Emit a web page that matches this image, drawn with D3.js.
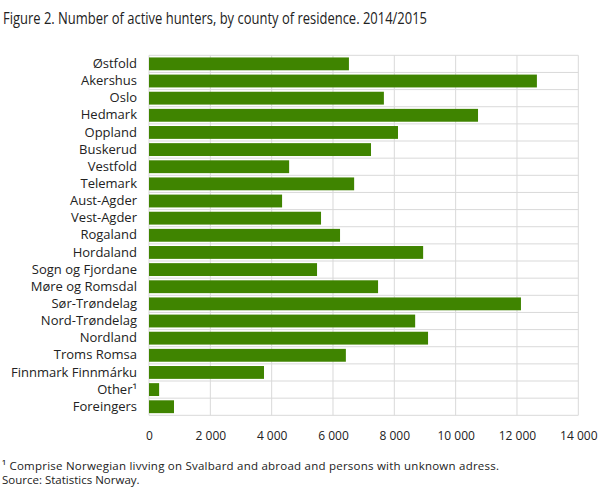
<!DOCTYPE html>
<html>
<head>
<meta charset="utf-8">
<script src="https://cdn.jsdelivr.net/npm/d3@7"></script>
<style>
  body { margin: 0; background: #fff; }
  text { font-family: "Open Sans", sans-serif; fill: #222; }
</style>
</head>
<body>
<svg id="chart"></svg>
<script>
const counties = ["Østfold", "Akershus", "Oslo", "Hedmark", "Oppland", "Buskerud", "Vestfold",
  "Telemark", "Aust-Agder", "Vest-Agder", "Rogaland", "Hordaland", "Sogn og Fjordane",
  "Møre og Romsdal", "Sør-Trøndelag", "Nord-Trøndelag", "Nordland", "Troms Romsa",
  "Finnmark Finnmárku", "Other¹", "Foreingers"];
const hunters = [6520, 12650, 7660, 10730, 8120, 7240, 4570,
  6690, 4340, 5610, 6230, 8940, 5480,
  7470, 12130, 8680, 9100, 6420,
  3750, 330, 815];
const xTicks = [0, 2000, 4000, 6000, 8000, 10000, 12000, 14000];

const width = 609, height = 489;
const margin = { top: 55.3, right: 30.7, bottom: 73.7, left: 149 };

const svg = d3.select('#chart')
  .attr('width', width)
  .attr('height', height);

const x = d3.scaleLinear()
  .domain([0, 14000])
  .range([margin.left, width - margin.right]);

const y = d3.scaleBand()
  .domain(counties)
  .range([margin.top, height - margin.bottom])
  .paddingInner(0.25)
  .paddingOuter(0.125);

// row grid lines (band edges)
const rowEdges = counties.map(c => y(c) - y.step() * y.paddingInner() / 2);
rowEdges.push(height - margin.bottom);
svg.append('g')
  .selectAll('line')
  .data(rowEdges)
  .enter().append('line')
  .attr('x1', x(0)).attr('x2', x(14000))
  .attr('y1', d => d).attr('y2', d => d)
  .attr('stroke', '#d9d9d9')
  .attr('stroke-width', 1);

// vertical grid lines
svg.append('g')
  .selectAll('line')
  .data(xTicks)
  .enter().append('line')
  .attr('x1', d => x(d)).attr('x2', d => x(d))
  .attr('y1', margin.top).attr('y2', height - margin.bottom)
  .attr('stroke', '#d9d9d9')
  .attr('stroke-width', 1);

// bars
svg.append('g')
  .selectAll('rect')
  .data(counties)
  .enter().append('rect')
  .attr('x', x(0))
  .attr('y', d => y(d))
  .attr('width', (d, i) => x(hunters[i]) - x(0))
  .attr('height', y.bandwidth())
  .attr('fill', '#3f8400');

// y axis labels
const yAxis = d3.axisLeft(y).tickSize(0).tickPadding(12);
svg.append('g')
  .attr('transform', `translate(${margin.left},0)`)
  .call(yAxis)
  .call(g => g.select('.domain').remove())
  .selectAll('text')
  .style('font-family', '"Open Sans", sans-serif')
  .style('font-size', '13px')
  .attr('fill', '#222');

// x axis labels
const fmt = d => d3.format(',')(d).replace(/,/g, ' ');
const xAxis = d3.axisBottom(x).tickValues(xTicks).tickFormat(fmt).tickSize(0).tickPadding(16);
svg.append('g')
  .attr('transform', `translate(0,${height - margin.bottom})`)
  .call(xAxis)
  .call(g => g.select('.domain').remove())
  .selectAll('text')
  .style('font-family', '"Open Sans", sans-serif')
  .style('font-size', '12px')
  .attr('fill', '#222');

// title
svg.append('text')
  .attr('x', 3)
  .attr('y', 24)
  .attr('textLength', 424)
  .attr('lengthAdjust', 'spacingAndGlyphs')
  .style('font-size', '15.5px')
  .text('Figure 2. Number of active hunters, by county of residence. 2014/2015');

// footnotes
svg.append('text')
  .attr('x', 2)
  .attr('y', 470)
  .attr('textLength', 497)
  .attr('lengthAdjust', 'spacing')
  .style('font-size', '11.5px')
  .text('¹ Comprise Norwegian livving on Svalbard and abroad and persons with unknown adress.');
svg.append('text')
  .attr('x', 2)
  .attr('y', 484)
  .style('font-size', '11.5px')
  .text('Source: Statistics Norway.');
</script>
</body>
</html>
